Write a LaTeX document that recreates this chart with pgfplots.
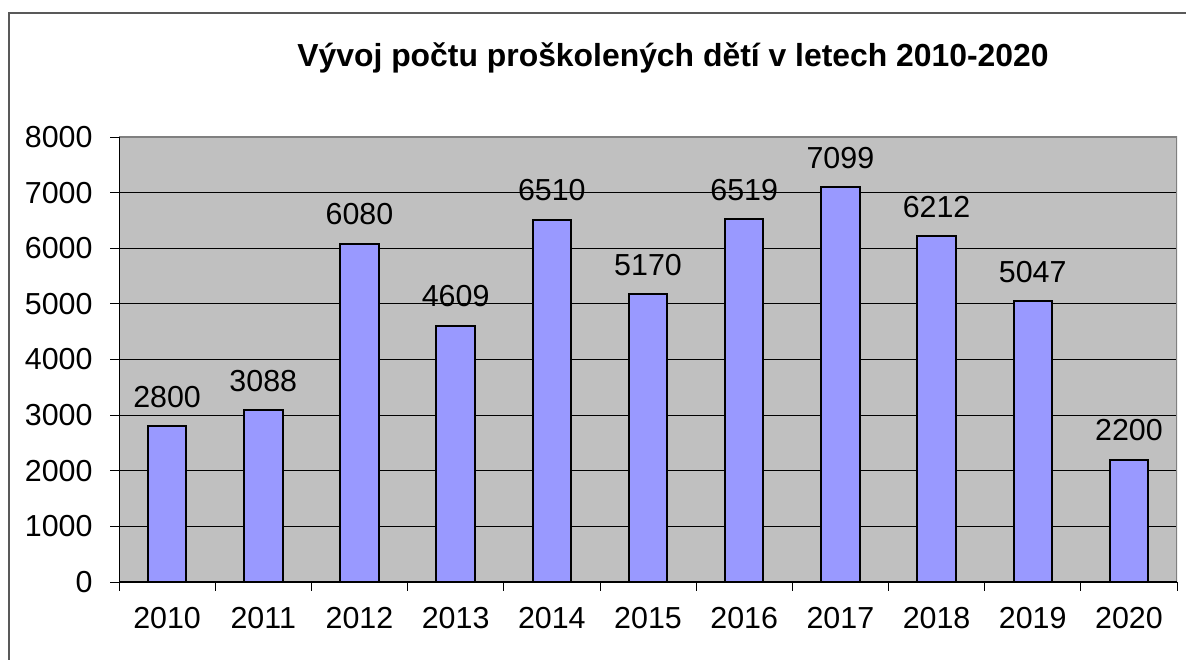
\documentclass[border=0pt]{standalone}
\usepackage{pgfplots}
\pgfplotsset{compat=1.18}
\usepackage{fontspec}
\setmainfont{Liberation Sans}
\definecolor{barblue}{HTML}{9999FF}
\definecolor{plotgray}{HTML}{C0C0C0}
\newcommand{\bigf}{\fontsize{30.5}{36}\selectfont}
\begin{document}
\begin{tikzpicture}[x=1bp,y=1bp]
\path[use as bounding box] (0,0) rectangle (1186,660);
\draw[color=black!65, line width=1.5bp] (9,-5) -- (9,647) -- (1191,647);
\node[font=\bfseries\fontsize{32}{38}\selectfont, anchor=base] at (673,593) {Vývoj počtu proškolených dětí v letech 2010-2020};
\begin{axis}[
  at={(119bp,78bp)}, anchor=south west,
  scale only axis, width=1058bp, height=445bp,
  xmin=-0.5, xmax=10.5, ymin=0, ymax=8000,
  axis background/.style={fill=plotgray},
  axis line style={draw=none},
  /pgf/number format/assume math mode=true,
  /pgf/number format/1000 sep={},
  ytick={0,1000,...,8000},
  ymajorgrids,
  major grid style={black, line width=0.8bp},
  xtick={-0.5,0.5,...,10.5},
  xticklabels={},
  extra x ticks={0,1,2,3,4,5,6,7,8,9,10},
  extra x tick labels={2010,2011,2012,2013,2014,2015,2016,2017,2018,2019,2020},
  extra x tick style={major tick length=0pt, grid=none},
  xtick pos=bottom, ytick pos=left,
  tick align=outside,
  major tick length=9bp,
  tick style={black, line width=0.8bp},
  ticklabel style={font=\bigf},
  yticklabel style={xshift=-14bp},
  xticklabel style={yshift=-22bp},
]
\addplot[ybar, bar width=0.4, fill=barblue, draw=black, line width=2bp,
  nodes near coords,
  nodes near coords style={font=\bigf, anchor=base, yshift=19bp, text=black}]
  coordinates {(0,2800) (1,3088) (2,6080) (3,4609) (4,6510) (5,5170) (6,6519) (7,7099) (8,6212) (9,5047) (10,2200)};
\draw[color=black!50, line width=2bp] (rel axis cs:0,1) -- (rel axis cs:1,1) -- (rel axis cs:1,0);
\draw[black, line width=1bp] (rel axis cs:0,1) -- (rel axis cs:0,0) -- (rel axis cs:1,0);
\end{axis}
\end{tikzpicture}
\end{document}
